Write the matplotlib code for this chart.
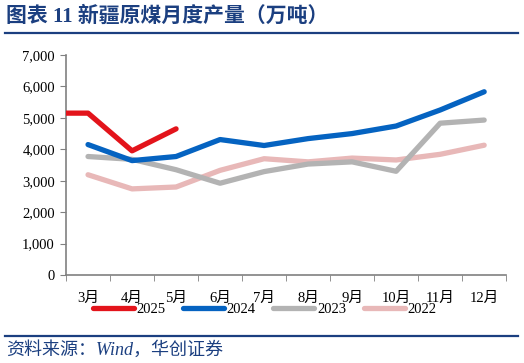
import matplotlib.pyplot as plt
from matplotlib.lines import Line2D

plt.rcParams['font.family'] = ['Liberation Serif', 'Noto Sans CJK SC']

# Months on the x axis
months = ["3月", "4月", "5月", "6月", "7月", "8月", "9月", "10月", "11月", "12月"]

# Xinjiang raw coal monthly output (10k tonnes)
# 2025 also carries the 1-2月 value, which sits just off the left edge
y2025_prev = 5150
y2025 = [5150, 3950, 4650]
y2024 = [4150, 3640, 3770, 4310, 4120, 4340, 4500, 4740, 5250, 5830]
y2023 = [3770, 3680, 3350, 2920, 3290, 3530, 3600, 3300, 4830, 4930]
y2022 = [3190, 2740, 2800, 3330, 3700, 3600, 3720, 3660, 3840, 4130]

title = "图表 11 新疆原煤月度产量（万吨）"
source = "资料来源：Wind，华创证券"

c2025 = '#E3141B'
c2024 = '#0563C1'
c2023 = '#B3B3B3'
c2022 = '#E8B8B8'
navy = '#1B3F80'

fig = plt.figure(figsize=(5.24, 3.63), dpi=100)
ax = fig.add_axes([0.126, 0.2424, 0.840, 0.6061])

x = list(range(len(months)))
lw = 3.8
ax.plot(x, y2022, color=c2022, lw=lw, solid_capstyle='round', zorder=2)
ax.plot(x, y2023, color=c2023, lw=lw, solid_capstyle='round', zorder=3)
ax.plot(x, y2024, color=c2024, lw=lw, solid_capstyle='round', zorder=4)
ax.plot([-1] + x[:len(y2025)], [y2025_prev] + y2025, color=c2025, lw=lw,
        solid_capstyle='round', zorder=5)

ax.set_xlim(-0.5, len(months) - 0.5)
ax.set_ylim(0, 7000)
ax.set_yticks(range(0, 7001, 1000))
ax.set_yticklabels([f"{v:,}" for v in range(0, 7001, 1000)], fontsize=10.5)

ax.set_xticks(x)
ax.set_xticklabels(months, fontsize=10.5)
ax.tick_params(axis='x', which='major', length=0, pad=12)
ax.set_xticks([i - 0.5 for i in range(len(months) + 1)], minor=True)
ax.tick_params(axis='x', which='minor', length=4, color='#808080')
ax.tick_params(axis='y', length=4, color='#808080', pad=4)

for s in ['top', 'right']:
    ax.spines[s].set_visible(False)
for s in ['left', 'bottom']:
    ax.spines[s].set_color('#808080')
    ax.spines[s].set_linewidth(1.2)

handles = [Line2D([], [], color=c, lw=lw, solid_capstyle='round')
           for c in (c2025, c2024, c2023, c2022)]
fig.legend(handles, ['2025', '2024', '2023', '2022'], loc='center',
           bbox_to_anchor=(0.505, 0.148), ncol=4, frameon=False, fontsize=10.5,
           handlelength=2.8, handletextpad=0.2, columnspacing=1.2)

# header and footer
fig.text(0.012, 0.953, title, fontsize=15, fontweight='bold', color=navy,
         va='center', ha='left')
fig.add_artist(Line2D([0.01, 0.988], [0.908, 0.908], color=navy, lw=1.6,
                      transform=fig.transFigure))
fig.add_artist(Line2D([0.01, 0.988], [0.074, 0.074], color=navy, lw=1.6,
                      transform=fig.transFigure))
fig.text(0.012, 0.036, source, fontsize=13, style='italic', color=navy,
         va='center', ha='left')

fig.savefig('out.png', dpi=100)
plt.close(fig)
